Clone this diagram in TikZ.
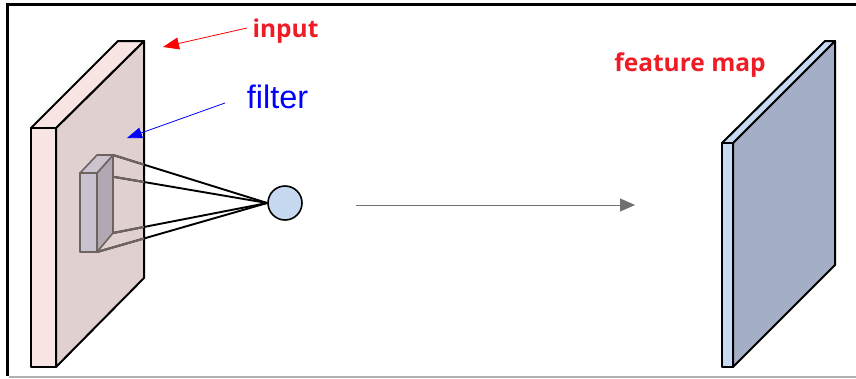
\documentclass[tikz,border=0pt]{standalone}
\usepackage{fontspec}
\usetikzlibrary{arrows.meta}
\newfontfamily\lblfont{Open Sans}
\newfontfamily\filtfont{Liberation Sans}
\definecolor{slabfront}{HTML}{F9E4E4}
\definecolor{slabside}{HTML}{E0D1D0}
\definecolor{mapfront}{HTML}{C7DAF2}
\definecolor{mapside}{HTML}{A4AFC7}
\definecolor{filtfront}{HTML}{C8C1D0}
\definecolor{filtside}{HTML}{B2A8B3}
\definecolor{filttop}{HTML}{CBC3CE}
\definecolor{filtline}{HTML}{6F6360}
\definecolor{lblred}{HTML}{EE1C25}
\definecolor{lblblue}{HTML}{0000FF}
\definecolor{arrgray}{HTML}{707070}
\definecolor{neuron}{HTML}{C6D9F1}
\begin{document}
\begin{tikzpicture}[x=1pt,y=-1pt,
  slabedge/.style={draw=black,line width=2pt,line join=round},
  filtedge/.style={draw=filtline,line width=1.6pt,line join=round},
  conn/.style={line width=1.9pt},
  redlbl/.style={text=lblred,font=\lblfont\bfseries\fontsize{24.5}{28}\selectfont,inner sep=0pt,anchor=base},
  bluelbl/.style={text=lblblue,font=\filtfont\fontsize{32.5}{36}\selectfont,inner sep=0pt,anchor=base},
  pointer/.style={line width=0.8pt}]
\useasboundingbox (0,0) rectangle (856,378);
% frame
\draw[line width=2.8pt] (856,4.5) -- (7.5,4.5) -- (7.5,376);
\draw[line width=1.8pt,draw=black!30] (9,376.8) -- (856,376.8);
% input slab
\filldraw[slabedge,fill=slabside] (56,128) -- (144,41) -- (144,278) -- (56,367) -- cycle;
\filldraw[slabedge,fill=slabfront] (31,128) -- (118,41) -- (144,41) -- (56,128) -- cycle;
\filldraw[slabedge,fill=slabfront] (31,128) rectangle (56,367);
% neuron
\node[circle,draw=black,line width=1.6pt,fill=neuron,minimum size=34pt,inner sep=0pt] (neu) at (285,203) {};
% filter corners
\coordinate (fbr) at (113,155);
\coordinate (ffr) at (97,174);
\coordinate (fbrb) at (113,233);
\coordinate (ffrb) at (97,252);
% connectors: black outside slab, brownish gray inside
\foreach \c in {fbr,ffr,fbrb,ffrb}{\draw[conn,black] (\c) -- (neu.west);}
\begin{scope}
\clip (56,128) -- (144,41) -- (144,278) -- (56,367) -- cycle;
\foreach \c in {fbr,ffr,fbrb,ffrb}{\draw[conn,filtline,line width=2.1pt] (\c) -- (neu.west);}
\end{scope}
% filter prism
\filldraw[filtedge,fill=filtside] (97,173) -- (113,155) -- (113,233) -- (97,252) -- cycle;
\filldraw[filtedge,fill=filttop] (80,173) -- (97,155) -- (113,155) -- (97,173) -- cycle;
\filldraw[filtedge,fill=filtfront] (80,173) rectangle (97,252);
% output arrow
\coordinate (arrS) at (356,205);
\coordinate (arrE) at (635,205);
\draw[arrgray,line width=1pt,-{Triangle[length=15pt,width=13pt]}] (arrS) -- (arrE);
% feature map
\filldraw[slabedge,fill=mapside] (733,143) -- (835,41) -- (835,265) -- (733,367) -- cycle;
\filldraw[slabedge,fill=mapfront] (722,143) -- (825,41) -- (835,41) -- (733,143) -- cycle;
\filldraw[slabedge,fill=mapfront] (722,143) rectangle (733,367);
% labels
\node[redlbl] (linput) at (285.5,37) {input};
\node[bluelbl] (lfilter) at (277.5,108) {filter};
\node[redlbl] (lmap) at (690,71) {feature map};
% pointers
\coordinate (inS) at (247,28);
\coordinate (inT) at (163,47);
\draw[pointer,red,-{Triangle[length=16pt,width=12pt]}] (inS) -- (inT);
\coordinate (fiS) at (225,103);
\coordinate (fiT) at (127,138);
\draw[pointer,blue,-{Triangle[length=15pt,width=11pt]}] (fiS) -- (fiT);
\end{tikzpicture}
\end{document}
